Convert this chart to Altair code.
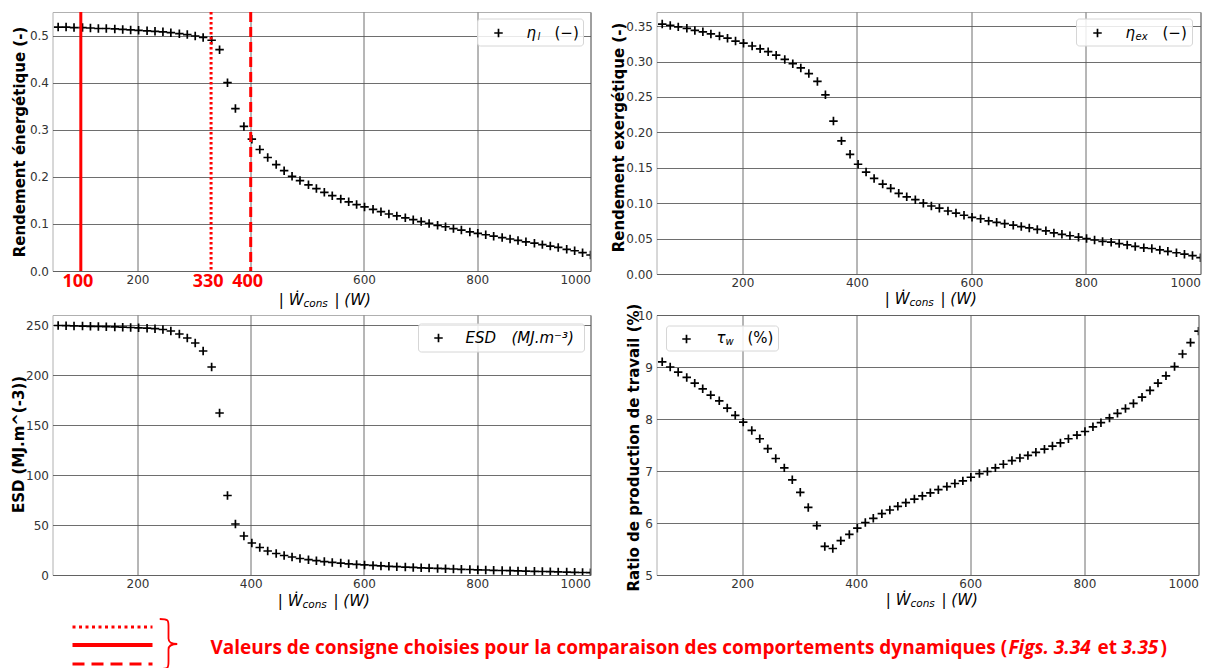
import altair as alt
import pandas as pd

# ---------------- data ----------------
W_cons = [60, 74, 88, 103, 117, 131, 145, 160, 174, 188,
          202, 217, 231, 245, 259, 274, 288, 302, 316, 331,
          345, 359, 373, 388, 402, 416, 430, 445, 459, 473,
          487, 502, 516, 530, 544, 559, 573, 587, 601, 616,
          630, 644, 658, 673, 687, 701, 715, 730, 744, 758,
          772, 787, 801, 815, 829, 844, 858, 872, 886, 901,
          915, 929, 943, 958, 972, 986, 1000]

eta_I = [0.518, 0.518, 0.517, 0.517, 0.516, 0.515, 0.515, 0.514, 0.513, 0.512,
         0.511, 0.510, 0.509, 0.508, 0.506, 0.504, 0.502, 0.499, 0.496, 0.490,
         0.470, 0.400, 0.345, 0.307, 0.280, 0.258, 0.241, 0.226, 0.213, 0.201,
         0.192, 0.183, 0.175, 0.167, 0.160, 0.153, 0.147, 0.141, 0.136, 0.131,
         0.126, 0.121, 0.117, 0.113, 0.109, 0.105, 0.101, 0.097, 0.094, 0.090,
         0.087, 0.083, 0.080, 0.077, 0.074, 0.071, 0.068, 0.065, 0.062, 0.059,
         0.056, 0.053, 0.050, 0.046, 0.043, 0.039, 0.034]

eta_ex = [0.353, 0.351, 0.349, 0.347, 0.344, 0.342, 0.339, 0.336, 0.333, 0.329,
          0.326, 0.322, 0.318, 0.314, 0.309, 0.303, 0.297, 0.291, 0.283, 0.272,
          0.253, 0.216, 0.188, 0.169, 0.155, 0.144, 0.135, 0.127, 0.121, 0.114,
          0.109, 0.105, 0.100, 0.096, 0.093, 0.089, 0.086, 0.083, 0.080, 0.078,
          0.075, 0.073, 0.071, 0.069, 0.067, 0.065, 0.063, 0.061, 0.058, 0.056,
          0.054, 0.052, 0.050, 0.048, 0.046, 0.045, 0.043, 0.041, 0.039, 0.037,
          0.036, 0.034, 0.032, 0.030, 0.028, 0.026, 0.023]

esd = [249.5, 249.3, 249.1, 248.9, 248.7, 248.5, 248.3, 248.1, 247.8, 247.5,
       247.2, 246.8, 246.3, 245.5, 244.0, 241.0, 237.0, 232.0, 224.0, 208.0,
       162.0, 79.5, 51.0, 39.0, 32.0, 27.5, 24.0, 21.5, 19.5, 18.0,
       16.5, 15.3, 14.3, 13.4, 12.6, 11.9, 11.2, 10.6, 10.1, 9.6,
       9.1, 8.7, 8.3, 7.9, 7.6, 7.2, 6.9, 6.6, 6.3, 6.0,
       5.7, 5.5, 5.2, 5.0, 4.7, 4.5, 4.3, 4.1, 3.9, 3.7,
       3.5, 3.3, 3.1, 2.9, 2.7, 2.5, 2.3]

tau_w = [9.10, 9.00, 8.90, 8.80, 8.69, 8.58, 8.46, 8.35, 8.21, 8.07,
         7.94, 7.78, 7.62, 7.43, 7.24, 7.06, 6.83, 6.59, 6.30, 5.95,
         5.55, 5.51, 5.66, 5.78, 5.90, 6.01, 6.09, 6.18, 6.25, 6.32,
         6.39, 6.46, 6.52, 6.58, 6.64, 6.70, 6.76, 6.81, 6.88, 6.95,
         6.99, 7.06, 7.13, 7.20, 7.25, 7.30, 7.36, 7.42, 7.48, 7.54,
         7.62, 7.69, 7.76, 7.85, 7.93, 8.02, 8.11, 8.20, 8.30, 8.42,
         8.55, 8.69, 8.83, 9.01, 9.25, 9.47, 9.69]

setpoint_values = [100, 330, 400]
setpoint_labels = ["100", "330", "400"]
setpoint_styles = ["solide", "pointillé", "tirets"]

x_ticks = [200, 400, 600, 800, 1000]

# ---------------- styles ----------------
PLUS = "M-1,0L1,0M0,-1L0,1"
BRACE = ("M-0.35,-1 C0,-1 0,-0.95 0,-0.7 L0,-0.22 C0,-0.06 0.12,0 0.35,0 "
         "C0.12,0 0,0.06 0,0.22 L0,0.7 C0,0.95 0,1 -0.35,1")
RED = "#ff0000"
MARK_SIZE = 72
MARK_SW = 1.7

df = pd.DataFrame({"W": W_cons, "eta_I": eta_I, "eta_ex": eta_ex,
                   "esd": esd, "tau_w": tau_w})
sp = pd.DataFrame({"W": setpoint_values, "label": setpoint_labels,
                   "style": setpoint_styles})
one = pd.DataFrame({"k": [0]})

XSCALE = alt.Scale(domain=[50, 1000], nice=False, zero=False)


def scatter(field, ydomain, yvalues, yfmt, ytitle, tx, ty, hide400=False):
    if hide400:
        xaxis = alt.Axis(values=x_ticks, title=None, format="d",
                         labelExpr="datum.value == 400 ? '' : datum.label")
    else:
        xaxis = alt.Axis(values=x_ticks, title=None, format="d")
    return alt.Chart(df).mark_point(
        shape=PLUS, filled=False, color="black", strokeWidth=MARK_SW,
        size=MARK_SIZE, opacity=1, clip=True
    ).encode(
        x=alt.X("W:Q", scale=XSCALE, axis=xaxis),
        y=alt.Y(f"{field}:Q",
                scale=alt.Scale(domain=ydomain, nice=False, zero=False),
                axis=alt.Axis(values=yvalues, format=yfmt, title=ytitle,
                              titleX=tx, titleY=ty, titleAngle=270,
                              titleAlign="center", titleBaseline="middle")),
    )


def box(x1, x2, y1, y2):
    return alt.Chart(one).mark_rect(
        fill="white", fillOpacity=0.85, stroke="#d6d6d6", strokeWidth=1,
        cornerRadius=3
    ).encode(x=alt.value(x1), x2=alt.value(x2), y=alt.value(y1), y2=alt.value(y2))


def plus(x, y):
    return alt.Chart(one).mark_point(
        shape=PLUS, filled=False, color="black", strokeWidth=MARK_SW,
        size=MARK_SIZE, opacity=1
    ).encode(x=alt.value(x), y=alt.value(y))


def txt(s, x, y, size=15, style="italic", align="left", color="black",
        weight="normal", font="DejaVu Sans", baseline="middle"):
    return alt.Chart(one).mark_text(
        text=s, fontSize=size, fontStyle=style, align=align, baseline=baseline,
        color=color, fontWeight=weight, font=font
    ).encode(x=alt.value(x), y=alt.value(y))


def xtitle(cx, y):
    return [
        txt("| Ẇ", cx - 21, y, align="right"),
        txt("cons", cx - 21, y + 4, size=10.5),
        txt("| (W)", cx + 10, y),
    ]


def redtxt(s, x, y, style="normal"):
    return txt(s, x, y, size=19, style=style, color=RED, weight="bold",
               font="Open Sans", baseline="alphabetic")


# ---------------- panels ----------------
TLW, TLH = 538, 259
TRW, TRH = 544, 262
BLW, BLH = 538, 260
BRW, BRH = 542, 260

tl_points = scatter("eta_I", [0, 0.55], [0, 0.1, 0.2, 0.3, 0.4, 0.5], ".1f",
                    "Rendement énergétique (-)", -33, TLH / 2, hide400=True)
tl_rules = alt.Chart(sp).mark_rule(color=RED, strokeWidth=3).encode(
    x=alt.X("W:Q", scale=XSCALE),
    strokeDash=alt.StrokeDash("style:N", scale=alt.Scale(
        domain=setpoint_styles, range=[[1, 0], [2.5, 2.5], [10, 5]]), legend=None),
)
tl_labels = alt.Chart(sp).mark_text(
    color=RED, fontWeight="bold", fontSize=18, font="Open Sans",
    baseline="middle", dx=-3
).encode(x=alt.X("W:Q", scale=XSCALE), y=alt.value(TLH + 11), text="label:N")

TL = alt.layer(
    tl_points, tl_rules, tl_labels,
    box(425, 531, 7, 34), plus(446, 21),
    txt("η", 474, 21), txt("l", 485, 25, size=10), txt("(−)", 502, 21, style="normal"),
    *xtitle(272, TLH + 29),
).properties(width=TLW, height=TLH)

tr_points = scatter("eta_ex", [0, 0.37], [0, 0.05, 0.1, 0.15, 0.2, 0.25, 0.3, 0.35],
                    ".2f", "Rendement exergétique (-)", -38, 125)
TR = alt.layer(
    tr_points,
    box(420, 536, 7, 34), plus(441, 21),
    txt("η", 469, 21), txt("ex", 479, 25, size=10), txt("(−)", 506, 21, style="normal"),
    *xtitle(274, TRH + 25),
).properties(width=TRW, height=TRH)

bl_points = scatter("esd", [0, 260], [0, 50, 100, 150, 200, 250], "d",
                    "ESD (MJ.m^(-3))", -34, 129)
# bottom legend (set-point line styles) drawn below the bottom-left panel
bl_legend = [
    alt.Chart(one).mark_rule(color=RED, strokeWidth=3, strokeDash=[3, 3.5]).encode(
        x=alt.value(20), x2=alt.value(100), y=alt.value(312)),
    alt.Chart(one).mark_rule(color=RED, strokeWidth=4).encode(
        x=alt.value(20), x2=alt.value(100), y=alt.value(330)),
    alt.Chart(one).mark_rule(color=RED, strokeWidth=3, strokeDash=[12, 7]).encode(
        x=alt.value(20), x2=alt.value(100), y=alt.value(349)),
    alt.Chart(one).mark_point(shape=BRACE, filled=False, color=RED, strokeWidth=1.8,
                              size=2500, opacity=1).encode(
        x=alt.value(116), y=alt.value(329)),
    redtxt("Valeurs de consigne choisies pour la comparaison des comportements dynamiques (",
           158, 339),
    redtxt("Figs. 3.34", 956, 339, style="italic"),
    redtxt("et", 1045, 339),
    redtxt("3.35", 1069, 339, style="italic"),
    redtxt(")", 1108, 339),
]
BL = alt.layer(
    bl_points,
    box(366, 532, 9, 37), plus(386, 23),
    txt("ESD", 413, 23), txt("(MJ.m⁻³)", 459, 23),
    *xtitle(271, BLH + 26),
    *bl_legend,
).properties(width=BLW, height=BLH)

br_points = scatter("tau_w", [5, 10], [5, 6, 7, 8, 9, 10], "d",
                    "Ratio de production de travail (%)", -23, 132)
BR = alt.layer(
    br_points,
    box(10, 122, 11, 36), plus(30, 24),
    txt("τ", 60, 23), txt("w", 69, 27, size=10), txt("(%)", 91, 23, style="normal"),
    *xtitle(275, BRH + 25),
).properties(width=BRW, height=BRH)

chart = alt.concat(
    TL, TR, BL, BR, columns=2, spacing={"row": 41, "column": 60},
    bounds="flush", align="all"
).properties(
    padding={"left": 2.5, "top": 2, "right": 0, "bottom": 0}
).configure_view(
    stroke="#b0b0b0", strokeWidth=1
).configure_axis(
    grid=True, gridColor="#555555", gridOpacity=0.85, gridWidth=1,
    domain=False, ticks=False, tickSize=0,
    labelFont="DejaVu Sans", labelFontSize=12, labelColor="#333333",
    titleFont="DejaVu Sans", titleFontSize=15, titleFontWeight="bold",
    titleColor="black",
).configure_axisX(labelPadding=3).configure_axisY(labelPadding=4)

chart.save("out.html", embed_options={"renderer": "svg", "actions": False})
